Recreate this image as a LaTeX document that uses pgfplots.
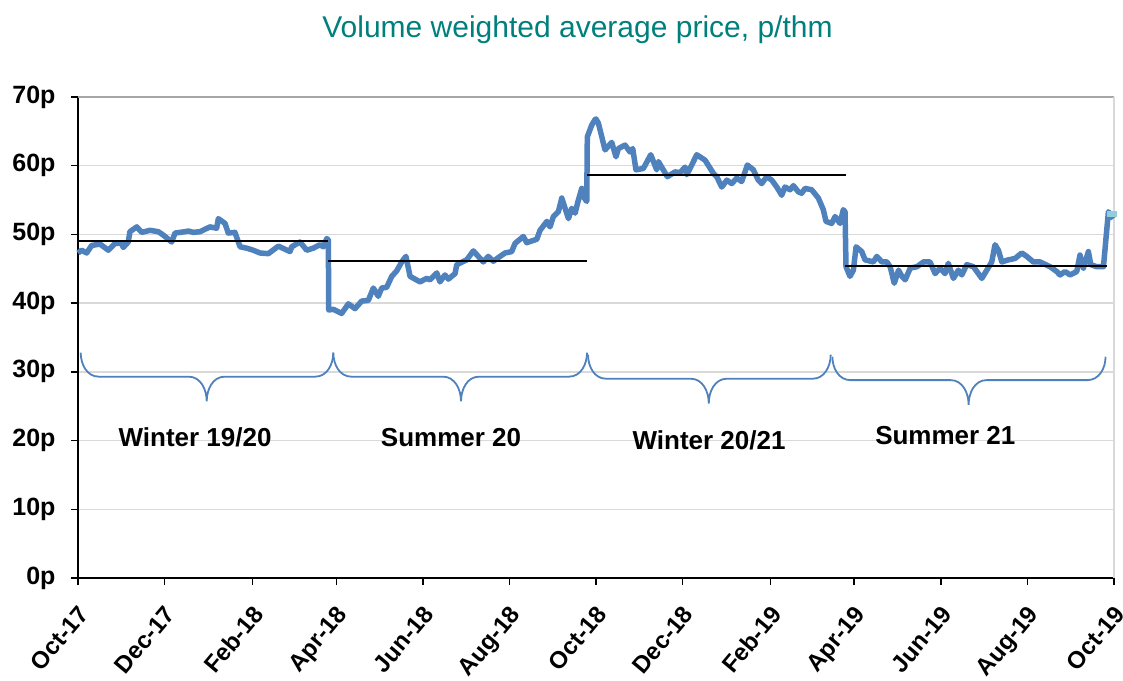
\documentclass[border=0pt]{standalone}
\usepackage{pgfplots}
\pgfplotsset{compat=1.18}
\usepackage{fontspec}
\setmainfont{Liberation Sans}
\definecolor{lineblue}{RGB}{79,129,189}
\definecolor{lightblue}{RGB}{146,205,220}
\definecolor{titleteal}{RGB}{0,128,124}
\definecolor{gridgray}{RGB}{217,217,217}
\definecolor{bordergray}{RGB}{166,166,166}
\begin{document}
\begin{tikzpicture}
\path[use as bounding box] (0,0) rectangle (1123pt,680pt);
\begin{axis}[
  at={(78pt,102pt)}, anchor=south west,
  scale only axis, width=1036pt, height=481pt,
  xmin=0, xmax=730, ymin=0, ymax=70,
  clip=false,
  axis x line*=bottom, axis y line*=left,
  axis line style={black, line width=2pt},
  tick style={black, line width=1.5pt},
  major tick length=7pt, tick align=outside,
  ymajorgrids, grid style={gridgray, line width=1.5pt},
  ytick={0,10,20,30,40,50,60,70},
  yticklabels={0p,10p,20p,30p,40p,50p,60p,70p},
  yticklabel style={font=\fontsize{25}{28}\selectfont\bfseries, xshift=-12pt},
  xtick={0,61,123,182,243,304,365,426,488,547,608,669,730},
  xticklabels={Oct-17,Dec-17,Feb-18,Apr-18,Jun-18,Aug-18,Oct-18,Dec-18,Feb-19,Apr-19,Jun-19,Aug-19,Oct-19},
  xticklabel style={font=\fontsize{24}{28}\selectfont\bfseries, xshift=-1pt, yshift=-19pt, rotate=50, anchor=north east, inner sep=0pt},
]
\draw[bordergray, line width=2pt] (axis cs:0,70) -- (axis cs:730,70);
\draw[gridgray, line width=1.5pt] (axis cs:730,0) -- (axis cs:730,70);

\addplot[lineblue, line width=5.5pt, line join=round, no marks] table {
x y
0 47.3
2.6 47.7
6.1 47.3
9.7 48.4
15.5 48.6
21.4 47.7
26.1 48.7
30.8 48.7
31.9 48.1
35.4 48.9
36.6 50.4
41.4 51.1
44.9 50.3
50.7 50.6
56.6 50.4
60.1 49.9
66.0 48.9
68.4 50.2
75.4 50.4
77.7 50.5
81.3 50.3
86.0 50.4
93.0 51.1
97.7 50.9
98.9 52.3
103.6 51.6
105.9 50.2
110.6 50.3
114.2 48.2
118.9 48.0
123.5 47.7
128.3 47.3
134.1 47.2
141.2 48.3
149.4 47.5
150.6 48.2
156.4 48.9
161.2 47.7
165.8 48.0
170.5 48.5
172.9 48.2
175.3 49.4
176.4 49.2
176.7 39.0
179.9 39.1
185.8 38.5
190.5 39.9
195.2 39.2
199.9 40.3
204.6 40.4
208.1 42.2
211.6 41.0
214.0 42.2
217.5 42.3
221.1 43.9
224.6 44.7
228.1 46.0
231.1 46.8
234.0 43.9
241.0 43.1
245.7 43.6
248.1 43.4
252.8 44.4
255.1 43.1
258.6 44.1
261.0 43.5
265.7 44.3
266.9 45.6
273.9 46.3
278.6 47.6
282.1 46.8
285.6 46.0
289.1 46.8
292.7 46.1
297.4 46.8
300.9 47.3
305.6 47.5
308.0 48.7
313.8 49.7
316.2 48.8
323.3 49.3
325.6 50.6
330.4 51.9
332.6 51.1
335.0 52.6
338.5 53.3
340.9 55.3
345.6 52.3
347.9 53.8
350.3 53.1
352.6 55.0
355.0 56.7
356.1 55.5
358.5 54.8
358.9 64.2
362.0 65.9
364.3 66.7
365.0 66.8
366.7 66.2
371.4 62.3
376.1 63.4
379.1 61.3
380.8 62.5
385.5 63.0
389.0 62.0
390.9 62.5
393.2 59.4
398.4 59.6
403.6 61.6
407.8 59.4
409.0 60.6
415.3 58.4
420.7 59.1
424.2 59.0
427.8 59.8
429.0 58.7
432.5 60.1
436.0 61.6
441.9 60.8
447.7 58.9
450.1 58.4
453.6 56.9
457.2 57.9
460.7 57.4
464.2 58.2
467.7 57.7
471.7 60.1
475.9 59.4
479.4 57.9
481.8 57.4
485.3 58.4
488.9 57.9
492.4 56.9
495.9 55.7
498.2 56.9
501.8 56.5
504.1 57.1
507.6 56.2
510.0 56.0
512.3 56.7
517.0 56.5
521.7 55.3
525.2 53.6
527.1 51.9
531.1 51.6
533.5 52.6
537.0 51.6
539.3 53.6
540.5 53.3
541.2 45.3
544.0 43.9
546.4 44.8
548.3 48.2
552.3 47.5
554.6 46.3
560.5 46.0
562.9 46.8
566.5 46.0
570.0 46.0
572.3 45.3
575.2 42.9
578.2 44.8
580.6 43.9
582.9 43.4
586.5 45.1
591.2 45.3
595.8 46.0
600.4 46.0
604.0 44.3
607.5 45.1
611.0 44.3
613.3 45.8
616.9 43.6
620.4 44.8
622.8 44.1
626.3 45.6
631.0 45.3
636.9 43.6
640.4 44.8
643.9 46.0
646.2 48.5
648.6 47.7
651.0 46.0
655.6 46.3
660.3 46.5
665.0 47.3
668.6 46.8
673.2 46.0
677.9 46.0
685.0 45.3
689.7 44.6
692.0 44.1
695.6 44.6
699.1 44.1
703.8 44.6
706.1 47.0
708.5 45.1
712.0 47.5
713.7 45.6
717.9 45.3
722.6 45.3
726.1 53.3
729.7 52.3
};
\addplot[lightblue, line width=5.5pt, no marks] coordinates {(725,53.0) (731.9,53.0)};

\addplot[black, line width=2pt, no marks] coordinates {(0,49.0) (176.2,49.0)};
\addplot[black, line width=2pt, no marks] coordinates {(176.2,46.2) (358.7,46.2)};
\addplot[black, line width=2pt, no marks] coordinates {(358.7,58.65) (541.2,58.65)};
\addplot[black, line width=2pt, no marks] coordinates {(540.5,45.35) (725.1,45.35)};

\draw[lineblue, line width=1.8pt] (axis cs:1.9,32.8) to[out=-90,in=180] (axis cs:14.6,29.3) -- (axis cs:78,29.3) to[out=0,in=90] (axis cs:90.7,25.7) to[out=90,in=180] (axis cs:103.4,29.3) -- (axis cs:167.2,29.3) to[out=0,in=-90] (axis cs:179.9,32.8);
\draw[lineblue, line width=1.8pt] (axis cs:179.9,32.8) to[out=-90,in=180] (axis cs:192.6,29.3) -- (axis cs:257.2,29.3) to[out=0,in=90] (axis cs:269.9,25.7) to[out=90,in=180] (axis cs:282.6,29.3) -- (axis cs:346,29.3) to[out=0,in=-90] (axis cs:358.7,32.8);
\draw[lineblue, line width=1.8pt] (axis cs:359.4,32.5) to[out=-90,in=180] (axis cs:372.1,29.0) -- (axis cs:431.8,29.0) to[out=0,in=90] (axis cs:444.5,25.4) to[out=90,in=180] (axis cs:457.2,29.0) -- (axis cs:517.7,29.0) to[out=0,in=-90] (axis cs:530.4,32.5);
\draw[lineblue, line width=1.8pt] (axis cs:531.6,32.2) to[out=-90,in=180] (axis cs:544.3,28.8) -- (axis cs:614.9,28.8) to[out=0,in=90] (axis cs:627.6,25.2) to[out=90,in=180] (axis cs:640.3,28.8) -- (axis cs:711.4,28.8) to[out=0,in=-90] (axis cs:724.1,32.2);

\node[font=\fontsize{26}{30}\selectfont\bfseries] at (axis cs:82.5,20.4) {Winter 19/20};
\node[font=\fontsize{26}{30}\selectfont\bfseries] at (axis cs:262.9,20.4) {Summer 20};
\node[font=\fontsize{26}{30}\selectfont\bfseries] at (axis cs:444.7,20.1) {Winter 20/21};
\node[font=\fontsize{26}{30}\selectfont\bfseries] at (axis cs:611.2,20.7) {Summer 21};
\end{axis}
\node[font=\fontsize{30}{34}\selectfont, text=titleteal] at (577.5pt,650pt) {Volume weighted average price, p/thm};
\end{tikzpicture}
\end{document}
